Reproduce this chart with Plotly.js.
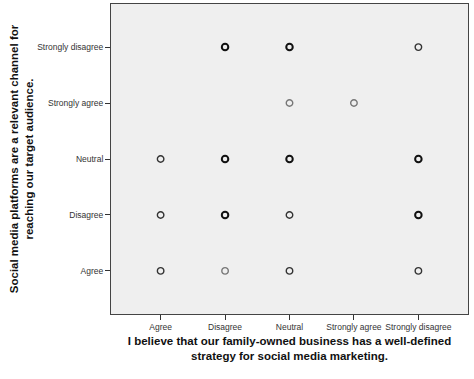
<!DOCTYPE html>
<html>
<head>
<meta charset="utf-8">
<script src="https://cdn.plot.ly/plotly-3.0.1.min.js"></script>
<style>html,body{margin:0;padding:0;background:#fff;}#chart{width:474px;height:379px;}</style>
</head>
<body>
<div id="chart"></div>
<script>
var categories = ["Agree", "Disagree", "Neutral", "Strongly agree", "Strongly disagree"];
// x: strategy answer, y: relevance answer
var xStrategy = ["Disagree", "Neutral", "Strongly disagree",
                 "Neutral", "Strongly agree",
                 "Agree", "Disagree", "Neutral", "Strongly disagree",
                 "Agree", "Disagree", "Neutral", "Strongly disagree",
                 "Agree", "Disagree", "Neutral", "Strongly disagree"];
var yRelevance = ["Strongly disagree", "Strongly disagree", "Strongly disagree",
                  "Strongly agree", "Strongly agree",
                  "Neutral", "Neutral", "Neutral", "Neutral",
                  "Disagree", "Disagree", "Disagree", "Disagree",
                  "Agree", "Agree", "Agree", "Agree"];
// approximate number of overlapping cases (darker ring = more cases)
var overlapCount = [3, 3, 2,
                    1, 1,
                    2, 3, 3, 3,
                    2, 3, 2, 3,
                    2, 1, 2, 2];

function ringColor(n){ return n >= 3 ? "#111111" : (n === 2 ? "#333333" : "#777777"); }
function ringWidth(n){ return n >= 3 ? 2 : 1.4; }

var trace = {
  type: "scatter",
  mode: "markers",
  x: xStrategy,
  y: yRelevance,
  marker: {
    symbol: "circle-open",
    size: 6.5,
    color: overlapCount.map(ringColor),
    line: {width: overlapCount.map(ringWidth), color: overlapCount.map(ringColor)}
  },
  hoverinfo: "x+y"
};

var layout = {
  width: 474, height: 379,
  margin: {l: 111, r: 6, t: 4, b: 65},
  paper_bgcolor: "#ffffff",
  plot_bgcolor: "#efefef",
  showlegend: false,
  font: {family: "Liberation Sans, Arial, sans-serif", color: "#222"},
  xaxis: {
    type: "category",
    categoryorder: "array", categoryarray: categories,
    range: [-0.77, 4.77],
    showgrid: false, zeroline: false,
    showline: true, linecolor: "#444", linewidth: 1, mirror: true,
    ticks: "outside", ticklen: 5, tickcolor: "#333", tickwidth: 1,
    tickangle: 0,
    tickfont: {size: 8.5, color: "#333"},
    title: {
      text: "I believe that our family-owned business has a well-defined<br>strategy for social media marketing.",
      font: {size: 11.5, color: "#111", family: "Liberation Sans, Arial, sans-serif", weight: "bold"},
      standoff: 5
    }
  },
  yaxis: {
    type: "category",
    categoryorder: "array", categoryarray: categories,
    range: [-0.77, 4.77],
    showgrid: false, zeroline: false,
    showline: true, linecolor: "#444", linewidth: 1, mirror: true,
    ticks: "outside", ticklen: 5, tickcolor: "#333", tickwidth: 1,
    tickfont: {size: 8.5, color: "#333"},
    title: {
      text: "Social media platforms are a relevant channel for<br>reaching our target audience.",
      font: {size: 11.5, color: "#111", family: "Liberation Sans, Arial, sans-serif", weight: "bold"},
      standoff: 1
    }
  }
};

Plotly.newPlot("chart", [trace], layout, {displayModeBar: false, staticPlot: true});
</script>
</body>
</html>
